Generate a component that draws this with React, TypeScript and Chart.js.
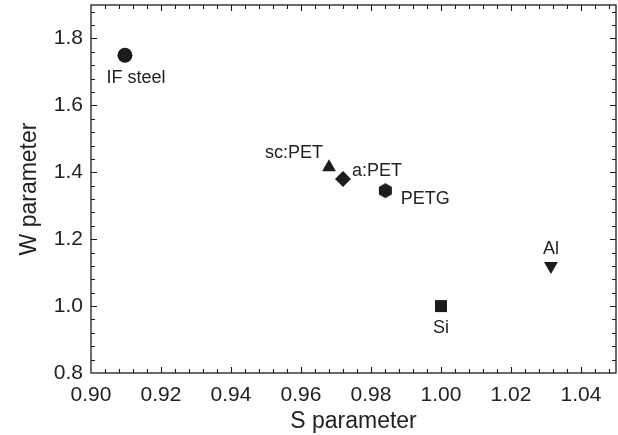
import React, { useEffect, useRef } from "react";
import { Chart, registerables } from "chart.js";

Chart.register(...registerables);

// ---- data ----
const materials = ["IF steel", "sc:PET", "a:PET", "PETG", "Si", "Al"];
const sValues = [0.9097, 0.968, 0.972, 0.9841, 1.0, 1.0314];
const wValues = [1.75, 1.415, 1.38, 1.345, 1.0, 1.12];

const xAxisTitle = "S parameter";
const yAxisTitle = "W parameter";

// ---- styling ----
const FONT = "'Liberation Sans', Arial, Helvetica, sans-serif";
const INK = "#1c1c1c";

function makeHexagon(radius: number): HTMLCanvasElement {
  const size = Math.ceil(radius * 2 + 2);
  const c = document.createElement("canvas");
  c.width = size;
  c.height = size;
  const ctx = c.getContext("2d")!;
  ctx.fillStyle = INK;
  ctx.beginPath();
  for (let k = 0; k < 6; k++) {
    const a = (Math.PI / 3) * k - Math.PI / 2;
    const px = size / 2 + radius * Math.cos(a);
    const py = size / 2 + radius * Math.sin(a);
    if (k === 0) ctx.moveTo(px, py);
    else ctx.lineTo(px, py);
  }
  ctx.closePath();
  ctx.fill();
  return c;
}

type MarkerStyle = { style: any; radius: number; rotation: number };
const markerStyles: MarkerStyle[] = [
  { style: "circle", radius: 7.5, rotation: 0 },
  { style: "triangle", radius: 8, rotation: 0 },
  { style: "rectRot", radius: 8, rotation: 0 },
  { style: "hex", radius: 7.5, rotation: 0 },
  { style: "rect", radius: 8.5, rotation: 0 },
  { style: "triangle", radius: 8, rotation: 180 },
];

// label offset (center of text relative to marker center), in px
const labelOffsets: [number, number][] = [
  [11, 23],
  [-35, -14],
  [34, -8],
  [40, 8],
  [0, 22],
  [0, -17],
];

const X_MINOR = 0.004;
const Y_MINOR = 0.04;

const framePlugin = {
  id: "frameAndTicks",
  afterDatasetsDraw(chart: any) {
    const { ctx, chartArea } = chart;
    const { left, right, top, bottom } = chartArea;
    const xs = chart.scales.x;
    const ys = chart.scales.y;
    ctx.save();
    ctx.strokeStyle = INK;
    ctx.lineWidth = 1.3;
    ctx.strokeRect(left, top, right - left, bottom - top);
    ctx.lineWidth = 1.1;
    ctx.beginPath();
    for (let i = 1; ; i++) {
      const v = xs.min + i * X_MINOR;
      if (v >= xs.max - 1e-9) break;
      const px = Math.round(xs.getPixelForValue(v)) + 0.5;
      const len = i % 5 === 0 ? 6 : 4;
      ctx.moveTo(px, bottom);
      ctx.lineTo(px, bottom - len);
      ctx.moveTo(px, top);
      ctx.lineTo(px, top + len);
    }
    for (let i = 1; ; i++) {
      const v = ys.min + i * Y_MINOR;
      if (v >= ys.max - 1e-9) break;
      const py = Math.round(ys.getPixelForValue(v)) + 0.5;
      const len = i % 5 === 0 ? 6 : 4;
      ctx.moveTo(left, py);
      ctx.lineTo(left + len, py);
      ctx.moveTo(right, py);
      ctx.lineTo(right - len, py);
    }
    ctx.stroke();

    // point labels
    ctx.fillStyle = "#222";
    ctx.font = `18px ${FONT}`;
    ctx.textAlign = "center";
    ctx.textBaseline = "middle";
    chart.data.datasets.forEach((ds: any, di: number) => {
      const meta = chart.getDatasetMeta(di);
      const el = meta.data[0];
      if (!el) return;
      const [dx, dy] = labelOffsets[di];
      ctx.fillText(ds.label, el.x + dx, el.y + dy);
    });
    ctx.restore();
  },
};

export default function App() {
  const ref = useRef<HTMLCanvasElement>(null);

  useEffect(() => {
    if (!ref.current) return;
    const hex = makeHexagon(7.5);
    const datasets = materials.map((name, i) => {
      const m = markerStyles[i];
      return {
        label: name,
        data: [{ x: sValues[i], y: wValues[i] }],
        pointStyle: m.style === "hex" ? hex : m.style,
        pointRadius: m.radius,
        pointRotation: m.rotation,
        backgroundColor: INK,
        borderColor: INK,
        borderWidth: 0,
        pointHoverRadius: m.radius,
      };
    });

    const chart = new Chart(ref.current, {
      type: "scatter",
      data: { datasets },
      options: {
        animation: false,
        responsive: false,
        layout: { autoPadding: false, padding: { left: 0, top: 5, right: 2, bottom: 0 } },
        plugins: {
          legend: { display: false },
          tooltip: { enabled: false },
        },
        scales: {
          x: {
            type: "linear",
            min: 0.9,
            max: 1.05,
            grid: { display: false, drawTicks: false },
            border: { display: false },
            ticks: {
              stepSize: 0.02,
              includeBounds: false,
              padding: 10,
              color: "#222",
              font: { family: FONT, size: 21 },
              maxRotation: 0,
              callback: (v: any) => Number(v).toFixed(2),
            },
            title: {
              display: true,
              text: xAxisTitle,
              color: "#222",
              font: { family: FONT, size: 23 },
              padding: { top: 0, bottom: 0 },
            },
            afterFit: (s: any) => {
              s.height = 62;
              s.paddingLeft = 0;
              s.paddingRight = 0;
            },
          },
          y: {
            type: "linear",
            min: 0.8,
            max: 1.9,
            grid: { display: false, drawTicks: false },
            border: { display: false },
            ticks: {
              stepSize: 0.2,
              includeBounds: false,
              padding: 8,
              color: "#222",
              font: { family: FONT, size: 21 },
              callback: (v: any) => Number(v).toFixed(1),
            },
            title: {
              display: true,
              text: yAxisTitle,
              color: "#222",
              font: { family: FONT, size: 23 },
              padding: { top: 16, bottom: 0 },
            },
            afterFit: (s: any) => {
              s.width = 91;
              s.paddingTop = 0;
              s.paddingBottom = 0;
            },
          },
        },
      },
      plugins: [framePlugin],
    });
    return () => chart.destroy();
  }, []);

  return (
    <div style={{ position: "absolute", left: 0, top: 0, width: 618, height: 435, background: "#fff" }}>
      <canvas ref={ref} width={618} height={435} style={{ display: "block" }} />
    </div>
  );
}
